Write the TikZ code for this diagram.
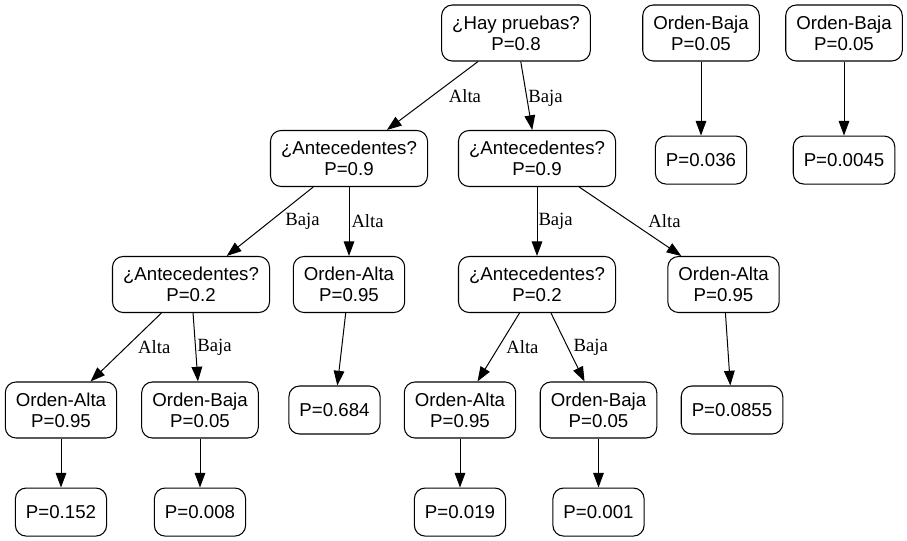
\documentclass[tikz,border=0pt]{standalone}
\usepackage{fontspec}
\setmainfont{Liberation Serif}
\setsansfont{Liberation Sans}
\usetikzlibrary{arrows.meta,positioning}

\tikzset{
  box/.style={draw,rounded corners=8pt,line width=0.8pt,align=center,
    font=\sffamily\fontsize{14}{16}\selectfont,inner xsep=7.92pt,inner ysep=3.96pt,
    minimum width=54pt,minimum height=42pt},
  leaf/.style={box,minimum height=36pt},
  lbl/.style={font=\fontsize{14}{16}\selectfont,inner sep=0pt,anchor=west,pos=0.5},
  arr/.style={-{Triangle[length=11pt,width=8pt]},line width=0.75pt}
}

\begin{document}
\begin{tikzpicture}[x=0.75pt,y=-0.75pt]
  \useasboundingbox (0,0) rectangle (907,541);
  % arbol principal
  \node[box] (root) at (516,33) {¿Hay pruebas?\\P=0.8};
  \node[box] (antA) at (349,158.5) {¿Antecedentes?\\P=0.9};
  \node[box] (antB) at (537,158.5) {¿Antecedentes?\\P=0.9};
  \node[box] (antC) at (191,284.5) {¿Antecedentes?\\P=0.2};
  \node[box] (altaA) at (349,284.5) {Orden-Alta\\P=0.95};
  \node[box] (antD) at (537,284.5) {¿Antecedentes?\\P=0.2};
  \node[box] (altaB) at (723.5,284.5) {Orden-Alta\\P=0.95};
  \node[box] (altaC) at (61,410) {Orden-Alta\\P=0.95};
  \node[box] (bajaC) at (200,410) {Orden-Baja\\P=0.05};
  \node[leaf] (p684) at (334.5,410) {P=0.684};
  \node[box] (altaD) at (460,410) {Orden-Alta\\P=0.95};
  \node[box] (bajaD) at (598.5,410) {Orden-Baja\\P=0.05};
  \node[leaf] (p0855) at (732,410) {P=0.0855};
  \node[leaf,below=36.75pt of altaC] (p152) {P=0.152};
  \node[leaf,below=36.75pt of bajaC] (p008) {P=0.008};
  \node[leaf,below=36.75pt of altaD] (p019) {P=0.019};
  \node[leaf,below=36.75pt of bajaD] (p001) {P=0.001};
  % nodos sueltos arriba a la derecha
  \node[box] (bajaT1) at (701,33) {Orden-Baja\\P=0.05};
  \node[box] (bajaT2) at (844,33) {Orden-Baja\\P=0.05};
  \node[leaf,below=55.5pt of bajaT1] (p036) {P=0.036};
  \node[leaf,below=55.5pt of bajaT2] (p0045) {P=0.0045};

  \draw[arr] (root) -- node[lbl,xshift=11.9pt] {Alta} (antA);
  \draw[arr] (root) -- node[lbl,xshift=1.1pt,yshift=-2pt] {Baja} (antB);
  \draw[arr] (antA) -- node[lbl,xshift=11.25pt] {Baja} (antC);
  \draw[arr] (antA) -- node[lbl,xshift=1.5pt] {Alta} (altaA);
  \draw[arr] (antB) -- node[lbl,xshift=0.75pt] {Baja} (antD);
  \draw[arr] (antB) -- node[lbl,xshift=13.3pt] {Alta} (altaB);
  \draw[arr] (antC) -- node[lbl,xshift=8.8pt] {Alta} (altaC);
  \draw[arr] (antC) -- node[lbl,xshift=1.1pt] {Baja} (bajaC);
  \draw[arr] (antD) -- node[lbl,xshift=5.5pt] {Alta} (altaD);
  \draw[arr] (antD) -- node[lbl,xshift=4pt] {Baja} (bajaD);
  \draw[arr] (altaA) -- (p684);
  \draw[arr] (altaB) -- (p0855);
  \draw[arr] (altaC) -- (p152);
  \draw[arr] (bajaC) -- (p008);
  \draw[arr] (altaD) -- (p019);
  \draw[arr] (bajaD) -- (p001);
  \draw[arr] (bajaT1) -- (p036);
  \draw[arr] (bajaT2) -- (p0045);
\end{tikzpicture}
\end{document}
